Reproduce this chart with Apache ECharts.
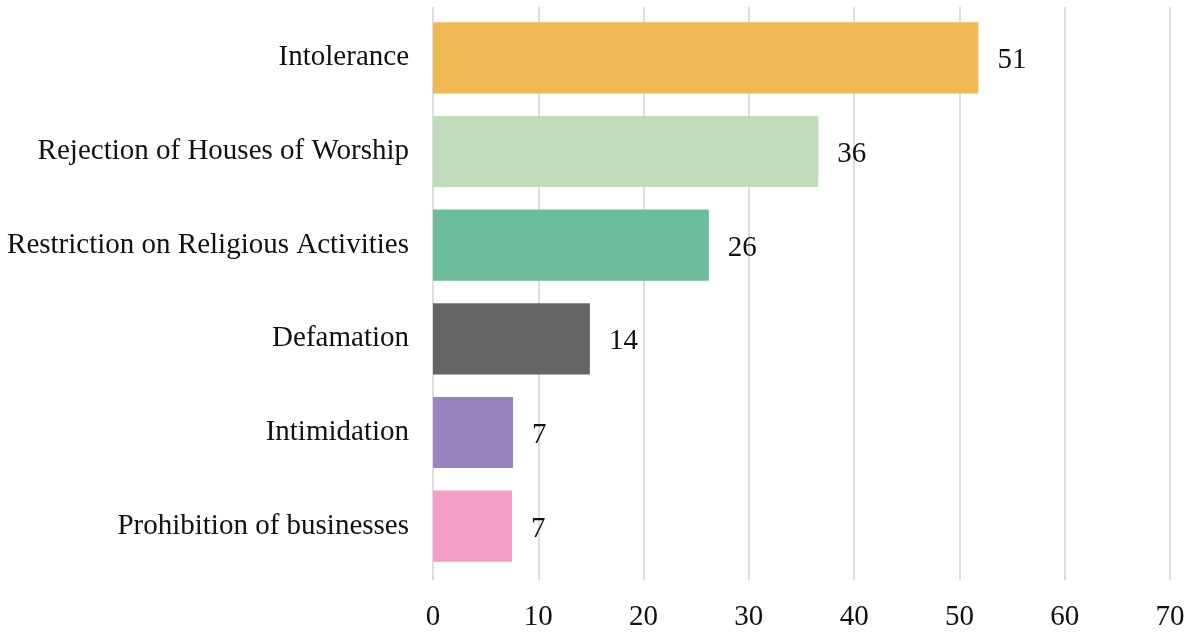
<!DOCTYPE html>
<html>
<head>
<meta charset="utf-8">
<script src="https://cdn.jsdelivr.net/npm/echarts@6/dist/echarts.min.js"></script>
<style>
  html, body { margin: 0; padding: 0; background: #fff; }
  #chart { width: 1194px; height: 632px; }
</style>
</head>
<body>
<div id="chart"></div>
<script>
  // categories top to bottom
  const categories = [
    'Intolerance',
    'Rejection of Houses of Worship',
    'Restriction on Religious Activities',
    'Defamation',
    'Intimidation',
    'Prohibition of businesses'
  ]
  // bar lengths as drawn
  const values = [51.8, 36.6, 26.2, 14.9, 7.6, 7.5]
  // labels printed next to the bars
  const valueLabels = ['51', '36', '26', '14', '7', '7']
  const colors = ['#EFBA53', '#C0DCBB', '#6BBD9B', '#636466', '#9784BC', '#F49EC4']
  const xTicks = [0, 10, 20, 30, 40, 50, 60, 70]

  const font = '"Liberation Serif", "DejaVu Serif", serif'
  const chart = echarts.init(document.getElementById('chart'))

  const options = {
    animation: false,
    textStyle: { fontFamily: font },
    // grid 0: gridlines + tick labels, grid 1: bars (a bit shorter vertically)
    grid: [
      { left: 433, right: 24, top: 7, bottom: 50 },
      { left: 433, right: 24, top: 11, bottom: 59 }
    ],
    xAxis: [{
      type: 'value',
      gridIndex: 0,
      min: xTicks[0],
      max: xTicks[xTicks.length - 1],
      interval: 10,
      axisLine: { show: false },
      axisTick: { show: false },
      axisLabel: {
        color: '#111',
        fontSize: 29,
        fontFamily: font,
        margin: 23
      },
      splitLine: {
        lineStyle: { color: '#d3d3d3', width: 1.5 }
      }
    }, {
      type: 'value',
      gridIndex: 1,
      min: xTicks[0],
      max: xTicks[xTicks.length - 1],
      interval: 10,
      show: false
    }],
    yAxis: [{
      type: 'category',
      gridIndex: 0,
      show: false,
      data: categories
    }, {
      type: 'category',
      gridIndex: 1,
      inverse: true,
      data: categories,
      axisLine: { show: false },
      axisTick: { show: false },
      axisLabel: {
        color: '#111',
        fontSize: 29,
        fontFamily: font,
        margin: 24,
        padding: [5, 0, 0, 0]
      }
    }],
    series: [{
      type: 'bar',
      xAxisIndex: 1,
      yAxisIndex: 1,
      barCategoryGap: '24%',
      data: values.map((v, i) => ({
        value: v,
        itemStyle: { color: colors[i] }
      })),
      label: {
        show: true,
        position: 'right',
        distance: 19,
        offset: [0, 3],
        color: '#111',
        fontSize: 29,
        fontFamily: font,
        formatter: p => valueLabels[p.dataIndex]
      }
    }]
  }

  chart.setOption(options)
</script>
</body>
</html>
